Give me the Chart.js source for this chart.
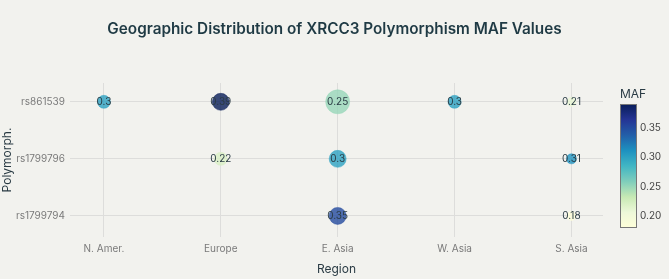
<!DOCTYPE html>
<html>
<head>
<meta charset="utf-8">
<script src="https://cdn.jsdelivr.net/npm/chart.js@4.4.1/dist/chart.umd.min.js"></script>
<style>
  html, body { margin: 0; padding: 0; background: #f2f2ee; }
  #wrap { width: 669px; height: 279px; }
</style>
</head>
<body>
<div id="wrap"><canvas id="myChart" width="669" height="279"></canvas></div>
<script>
// categories
const regions = ['N. Amer.', 'Europe', 'E. Asia', 'W. Asia', 'S. Asia'];
const polymorphs = ['rs1799794', 'rs1799796', 'rs861539']; // bottom -> top

// one entry per bubble
const pointRegion = ['N. Amer.', 'Europe', 'E. Asia', 'W. Asia', 'S. Asia', 'Europe', 'E. Asia', 'S. Asia', 'E. Asia', 'S. Asia'];
const pointPolymorph = ['rs861539', 'rs861539', 'rs861539', 'rs861539', 'rs861539', 'rs1799796', 'rs1799796', 'rs1799796', 'rs1799794', 'rs1799794'];
const mafValues = [0.3, 0.39, 0.25, 0.3, 0.21, 0.22, 0.3, 0.31, 0.35, 0.18];
const bubbleSize = [6.5, 8.5, 12, 6.5, 4.5, 6.5, 8.5, 5, 8.5, 4.5];

const colorbarTicks = [0.20, 0.25, 0.30, 0.35];

const titleText = 'Geographic Distribution of XRCC3 Polymorphism MAF Values';

// YlGnBu, low -> high
const ylgnbu = [
  [255, 255, 217], [237, 248, 217], [199, 233, 180], [127, 205, 187],
  [65, 182, 196], [29, 145, 192], [34, 94, 168], [37, 52, 148], [8, 29, 88]
];
const cmin = Math.min(...mafValues);
const cmax = Math.max(...mafValues);

function mafColor(v, alpha) {
  let t = (v - cmin) / (cmax - cmin);
  t = Math.max(0, Math.min(1, t));
  const pos = t * (ylgnbu.length - 1);
  const i = Math.min(Math.floor(pos), ylgnbu.length - 2);
  const f = pos - i;
  const c = ylgnbu[i].map((a, k) => Math.round(a + (ylgnbu[i + 1][k] - a) * f));
  return `rgba(${c[0]},${c[1]},${c[2]},${alpha})`;
}

const bubbles = mafValues.map((v, i) => ({
  x: regions.indexOf(pointRegion[i]),
  y: polymorphs.indexOf(pointPolymorph[i]),
  r: bubbleSize[i],
  maf: v
}));

const fontFamily = "Inter, 'Open Sans', 'Liberation Sans', sans-serif";

const bgPlugin = {
  id: 'bg',
  beforeDraw(chart) {
    const c = chart.ctx;
    c.save();
    c.fillStyle = '#f2f2ee';
    c.fillRect(0, 0, chart.width, chart.height);
    c.restore();
  }
};

// title centred over the plot area
const titlePlugin = {
  id: 'plotTitle',
  afterDraw(chart) {
    const c = chart.ctx;
    const a = chart.chartArea;
    c.save();
    c.font = '600 15.3px ' + fontFamily;
    c.fillStyle = '#1f3a44';
    c.textAlign = 'center';
    c.textBaseline = 'middle';
    c.fillText(titleText, (a.left + a.right) / 2 - 2, 29);
    c.restore();
  }
};

const labelPlugin = {
  id: 'bubbleLabels',
  afterDatasetsDraw(chart) {
    const c = chart.ctx;
    const meta = chart.getDatasetMeta(0);
    c.save();
    c.font = '10px ' + fontFamily;
    c.fillStyle = '#2a3b44';
    c.textAlign = 'center';
    c.textBaseline = 'middle';
    meta.data.forEach((el, i) => {
      c.fillText(String(mafValues[i]), el.x, el.y + 0.5);
    });
    c.restore();
  }
};

const colorbarPlugin = {
  id: 'colorbar',
  afterDraw(chart) {
    const c = chart.ctx;
    const x = 620, top = 104, w = 17, h = 124;
    const grad = c.createLinearGradient(0, top + h, 0, top);
    for (let k = 0; k <= 40; k++) {
      const v = cmin + (cmax - cmin) * k / 40;
      grad.addColorStop(k / 40, mafColor(v, 1));
    }
    c.save();
    c.fillStyle = grad;
    c.fillRect(x, top, w, h);
    c.strokeStyle = '#777';
    c.lineWidth = 1;
    c.strokeRect(x + 0.5, top + 0.5, w - 1, h - 1);
    c.font = '10px ' + fontFamily;
    c.fillStyle = '#444';
    c.textAlign = 'left';
    c.textBaseline = 'middle';
    colorbarTicks.forEach(t => {
      const y = top + h - (t - cmin) / (cmax - cmin) * h;
      c.fillText(t.toFixed(2), x + w + 3, y);
    });
    c.font = '12px ' + fontFamily;
    c.fillStyle = '#2a3b44';
    c.fillText('MAF', x, top - 10);
    c.restore();
  }
};

const config = {
  type: 'bubble',
  data: {
    datasets: [{
      label: 'MAF',
      data: bubbles,
      backgroundColor: bubbles.map(b => mafColor(b.maf, 0.8)),
      borderColor: bubbles.map(b => mafColor(b.maf, 0.9)),
      borderWidth: 0.5,
      hoverRadius: 0
    }]
  },
  options: {
    responsive: false,
    animation: false,
    devicePixelRatio: 1,
    layout: { padding: { left: 0, right: 66, top: 83, bottom: 0 } },
    plugins: {
      legend: { display: false },
      tooltip: { enabled: false },
      title: { display: false }
    },
    scales: {
      x: {
        type: 'linear',
        min: -0.29,
        max: 4.27,
        afterBuildTicks(axis) {
          axis.ticks = regions.map((r, i) => ({ value: i }));
        },
        afterFit(axis) { axis.height = 42; },
        ticks: {
          callback: v => regions[v],
          color: '#7a7a7a',
          font: { family: fontFamily, size: 10 },
          padding: 6,
          maxRotation: 0
        },
        grid: { color: '#dddddb', drawTicks: false },
        border: { display: false },
        title: {
          display: true,
          text: 'Region',
          color: '#2a3b44',
          font: { family: fontFamily, size: 12 },
          padding: { top: 0, bottom: 2 }
        }
      },
      y: {
        type: 'linear',
        min: -0.37,
        max: 2.33,
        afterBuildTicks(axis) {
          axis.ticks = polymorphs.map((p, i) => ({ value: i }));
        },
        afterFit(axis) { axis.width = 70; },
        ticks: {
          callback: v => polymorphs[v],
          color: '#7a7a7a',
          font: { family: fontFamily, size: 10 },
          padding: 5
        },
        grid: { color: '#dddddb', drawTicks: false },
        border: { display: false },
        title: {
          display: true,
          text: 'Polymorph.',
          color: '#2a3b44',
          font: { family: fontFamily, size: 12 },
          padding: { top: 0, bottom: 0 }
        }
      }
    }
  },
  plugins: [bgPlugin, labelPlugin, colorbarPlugin, titlePlugin]
};

const ctx = document.getElementById('myChart');
if (ctx) {
  const myChart = new Chart(ctx, config);
}
</script>
</body>
</html>
